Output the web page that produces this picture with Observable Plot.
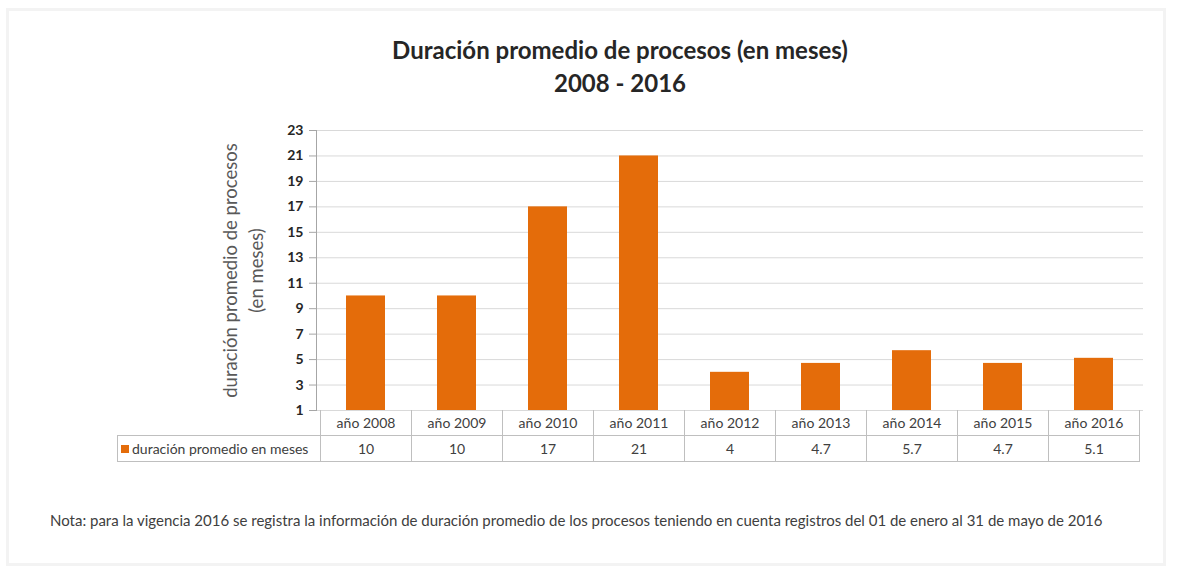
<!DOCTYPE html>
<html><head><meta charset="utf-8">
<script src="https://cdn.jsdelivr.net/npm/d3@7"></script>
<script src="https://cdn.jsdelivr.net/npm/@observablehq/plot@0.6"></script>
<style>
body{margin:0;background:#fff;font-family:Lato,"Open Sans",sans-serif;}
#wrap{position:relative;width:1181px;height:576px;overflow:hidden;background:#fff;}
#frame{position:absolute;left:6px;top:8px;width:1160px;height:558px;border:3px solid #f3f3f3;box-sizing:border-box;}
#title{position:absolute;left:270px;width:700px;top:33px;text-align:center;font-weight:bold;font-size:24px;line-height:33px;color:#262626;}
#chart{position:absolute;left:0;top:110px;}
.cell{position:absolute;box-sizing:border-box;text-align:center;font-size:14px;color:#404040;display:flex;align-items:center;justify-content:center;white-space:nowrap;}
#note{position:absolute;left:50px;top:511px;font-size:15px;color:#404040;white-space:nowrap;}
</style></head><body>
<div id="wrap">
<div id="frame"></div>
<div id="title">Duración promedio de procesos (en meses)<br>2008 - 2016</div>
<div id="chart"></div>
<div id="note"></div>
</div>
<script>
const years = ["2008","2009","2010","2011","2012","2013","2014","2015","2016"];
const categories = years.map(y => "año " + y);
const values = [10, 10, 17, 21, 4, 4.7, 5.7, 4.7, 5.1];
const valueLabels = ["10", "10", "17", "21", "4", "4.7", "5.7", "4.7", "5.1"];
const yTicks = [1, 3, 5, 7, 9, 11, 13, 15, 17, 19, 21, 23];
const yDomain = [1, 23];
const seriesName = "duración promedio en meses";
const yLabel = "duración promedio de procesos\n(en meses)";
const noteText = "Nota: para la vigencia 2016 se registra la información de duración promedio de los procesos teniendo en cuenta registros del 01 de enero al 31 de mayo de 2016";

const data = categories.map((c, i) => ({category: c, value: values[i], label: valueLabels[i]}));
const orange = "#E46C0A";
const border = "#bfbfbf";

const chart = Plot.plot({
  width: 1181,
  height: 301,
  marginLeft: 316,
  marginRight: 38,
  marginTop: 20,
  marginBottom: 1,
  style: {fontFamily: "Lato, 'Open Sans', sans-serif", fontSize: "12px", color: "#262626", background: "transparent", overflow: "visible"},
  x: {domain: categories, paddingInner: 0.57, paddingOuter: 0.285, axis: null},
  y: {domain: yDomain, axis: null},
  marks: [
    Plot.gridY(yTicks, {stroke: "#d9d9d9", strokeOpacity: 1}),
    Plot.barY(data, {x: "category", y1: yDomain[0], y2: "value", fill: orange}),
    Plot.axisY({ticks: yTicks, label: null, tickSize: 7, tickPadding: 6, stroke: "#a6a6a6", fontWeight: "bold", fontSize: 14, fill: "#262626"}),
    Plot.frame({anchor: "left", stroke: "#a6a6a6"}),
    Plot.text([yLabel], {frameAnchor: "left", dx: -75, rotate: -90, fontSize: 18.5, fill: "#595959", lineAnchor: "middle", textAnchor: "middle", lineHeight: 1.45})
  ]
});
document.getElementById("chart").appendChild(chart);

const xs = chart.scale("x");
const step = xs.step;
const gap = xs.step - xs.bandwidth;
const wrap = document.getElementById("wrap");
const rowTop = 110 + chart.scale("y").apply(yDomain[0]);
const rowH1 = 25, rowH2 = 26;
const leftCellX = 117;

function cell(x, y, w, h, text, css) {
  const d = document.createElement("div");
  d.className = "cell";
  d.style.left = x + "px"; d.style.top = y + "px";
  d.style.width = w + "px"; d.style.height = h + "px";
  Object.assign(d.style, css || {});
  if (typeof text === "string") d.textContent = text; else if (text) d.appendChild(text);
  wrap.appendChild(d);
}
categories.forEach((c, i) => {
  const x0 = xs.apply(c) - gap / 2;
  cell(x0, rowTop, step + 1, rowH1 + 1, c, {borderLeft: "1px solid " + border, borderRight: "1px solid " + border, borderBottom: "1px solid " + border});
  cell(x0, rowTop + rowH1, step + 1, rowH2 + 1, data[i].label, {border: "1px solid " + border});
});
const firstX = xs.apply(categories[0]) - gap / 2;
const leg = document.createElement("span");
leg.innerHTML = '<span style="display:inline-block;width:8px;height:8px;background:' + orange + ';margin-right:3px;vertical-align:middle;position:relative;top:-1px"></span>';
leg.appendChild(document.createTextNode(seriesName));
cell(leftCellX, rowTop + rowH1, firstX - leftCellX + 1, rowH2 + 1, leg, {border: "1px solid " + border, justifyContent: "flex-start", paddingLeft: "3px"});

document.getElementById("note").textContent = noteText;
</script>
</body></html>
